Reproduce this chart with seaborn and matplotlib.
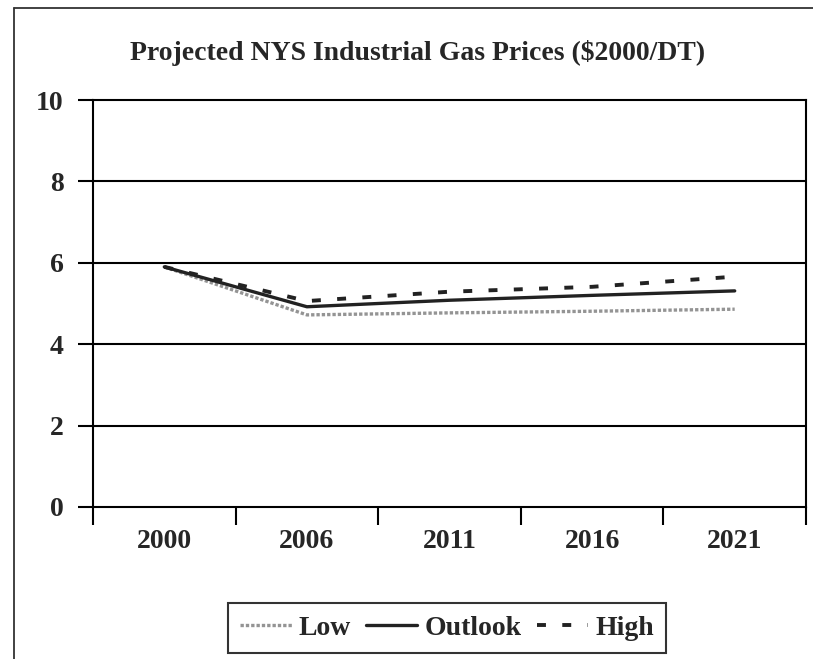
import pandas as pd
import seaborn as sns
import matplotlib
matplotlib.use("Agg")
import matplotlib.pyplot as plt
from matplotlib.lines import Line2D

# values
years = ["2000", "2006", "2011", "2016", "2021"]
low = [5.9, 4.72, 4.77, 4.81, 4.86]
outlook = [5.9, 4.92, 5.08, 5.20, 5.31]
high = [5.9, 5.06, 5.29, 5.41, 5.66]

sns.set_theme(style="white")
plt.rcParams['font.family'] = ['Liberation Serif', 'DejaVu Serif']
plt.rcParams['font.weight'] = 'bold'

df = pd.DataFrame({"Year": years, "Low": low, "Outlook": outlook, "High": high})

fig = plt.figure(figsize=(8.13, 6.59), dpi=100)
ax = fig.add_axes([93 / 813, 1 - 507 / 659, (806 - 93) / 813, (507 - 100) / 659])

sns.lineplot(data=df, x="Year", y="Low", ax=ax, color="#949494", lw=2.4,
             label="Low", sort=False)
sns.lineplot(data=df, x="Year", y="Outlook", ax=ax, color="#222222", lw=2.4,
             label="Outlook", sort=False)
sns.lineplot(data=df, x="Year", y="High", ax=ax, color="#222222", lw=2.8,
             label="High", sort=False)
ax.lines[0].set_dashes((1.0, 0.6))
ax.lines[2].set_dashes((2.3, 4.2))

ax.set_ylim(0, 10)
ax.set_xlim(-0.5, len(years) - 0.5)
ax.set_yticks([0, 2, 4, 6, 8, 10])
ax.set_xticks(range(len(years)))
ax.set_xticklabels(years)
ax.set_xticks([i - 0.5 for i in range(len(years) + 1)], minor=True)
ax.tick_params(axis="x", which="major", length=0, pad=16, labelsize=20)
ax.tick_params(axis="x", which="minor", length=13, width=1.5, color="black",
               direction="out", bottom=True)
ax.tick_params(axis="y", length=11, width=1.5, color="black", direction="out",
               left=True, pad=10, labelsize=20)
for t in ax.get_xticklabels() + ax.get_yticklabels():
    t.set_fontweight("bold")
for y in [2, 4, 6, 8]:
    ax.axhline(y, color="black", lw=1.5, zorder=0)
for s in ax.spines.values():
    s.set_visible(True)
    s.set_color("black")
    s.set_linewidth(1.5)
ax.set_xlabel("")
ax.set_ylabel("")
ax.legend_.remove()

fig.text(418 / 813, 1 - 53 / 659, "Projected NYS Industrial Gas Prices ($2000/DT)",
         ha="center", va="center", fontsize=20, fontweight="bold")

handles = ax.get_lines()[:3]
leg = fig.legend(handles, ["Low", "Outlook", "High"], loc="center",
                 bbox_to_anchor=(447 / 813, 1 - 628 / 659), ncol=3,
                 fontsize=20, frameon=True, fancybox=False, handlelength=1.85,
                 handletextpad=0.25, columnspacing=0.55, borderpad=0.45,
                 borderaxespad=0)
leg.get_frame().set_edgecolor("black")
leg.get_frame().set_linewidth(1.5)
for t in leg.get_texts():
    t.set_fontweight("bold")

# outer chart frame (left and top edges visible)
fig.add_artist(Line2D([13.5 / 813, 13.5 / 813], [0, 1 - 7.5 / 659],
                      transform=fig.transFigure, color="#333333", lw=1.3))
fig.add_artist(Line2D([13.5 / 813, 1], [1 - 7.5 / 659, 1 - 7.5 / 659],
                      transform=fig.transFigure, color="#333333", lw=1.3))

fig.savefig("out.png", dpi=100)
